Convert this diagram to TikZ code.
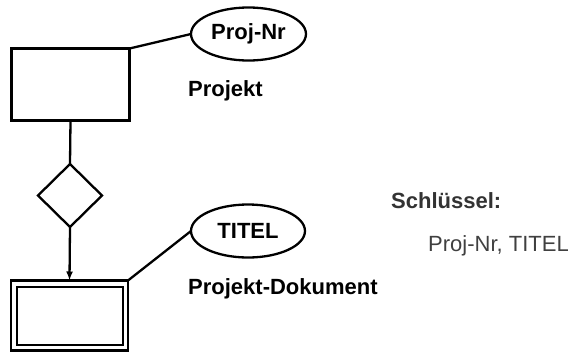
\documentclass[tikz,border=0pt]{standalone}
\usepackage{fontspec}
\setmainfont{Liberation Sans}
\usetikzlibrary{shapes.geometric,arrows.meta}
\definecolor{keygray}{HTML}{333333}
\definecolor{keytext}{HTML}{404040}
\tikzset{
  entbox/.style={draw, line width=2.8pt, inner sep=0pt, outer sep=0pt},
  attr/.style={ellipse, draw, line width=2.3pt, inner sep=0pt, outer sep=0pt, font=\bfseries},
  relshape/.style={diamond, draw, line width=2.3pt, inner sep=0pt, outer sep=0pt, minimum width=64pt, minimum height=63pt},
  conn/.style={line width=2.3pt},
  lbl/.style={anchor=west, inner sep=0pt, font=\bfseries}
}
\begin{document}
\begin{tikzpicture}[x=1pt,y=-1pt]
\fontsize{22}{26}\selectfont
\useasboundingbox (0,0) rectangle (573,354);
\node[entbox, minimum width=118pt, minimum height=72pt] (proj) at (70.5,84.5) {};
\node[attr, minimum width=115pt, minimum height=53pt] (projnr) at (248.5,34) {Proj-Nr};
\node[lbl] (projlbl) at (188,90.5) {Projekt};
\node[relshape] (rel) at (70,195.5) {};
\node[entbox, minimum width=117pt, minimum height=70pt] (doc) at (69.5,315.5) {};
\node[entbox, minimum width=106pt, minimum height=58pt] (docin) at (70,316) {};
\node[attr, minimum width=114pt, minimum height=53pt] (titel) at (248,231) {TITEL};
\node[lbl] (doclbl) at (188,289) {Projekt-Dokument};
\node[lbl, text=keygray] (keylbl) at (391,200.5) {Schlüssel:};
\node[anchor=west, inner sep=0pt, text=keytext] (keys) at (428,245.5) {Proj-Nr, TITEL};
\draw[conn] (proj.north east) -- (projnr.west);
\draw[conn] (proj.south) -- (rel.north);
\draw[conn, -{Latex[length=9pt,width=7pt]}] (rel.south) -- (doc.north);
\draw[conn] (doc.north east) -- (titel.west);
\end{tikzpicture}
\end{document}
